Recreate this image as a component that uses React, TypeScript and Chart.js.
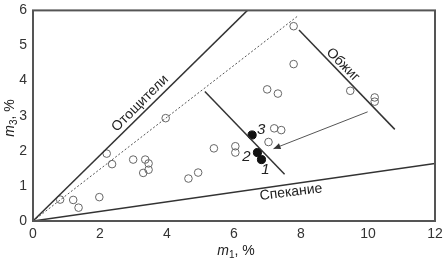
import React, { useEffect, useRef } from "react";
import { Chart, registerables } from "chart.js";

Chart.register(...registerables);

const xTicks = [0, 2, 4, 6, 8, 10, 12];
const yTicks = [0, 1, 2, 3, 4, 5, 6];

const openX = [0.81, 1.2, 1.36, 1.98, 2.2, 2.36, 2.99, 3.35, 3.45, 3.29, 3.45, 3.96, 4.64, 4.93, 5.4, 6.04, 6.04, 7.78, 7.78, 6.99, 7.31, 9.47, 10.2, 10.2, 7.2, 7.41, 7.03];
const openY = [0.61, 0.6, 0.38, 0.68, 1.92, 1.62, 1.75, 1.75, 1.64, 1.37, 1.46, 2.93, 1.21, 1.38, 2.07, 2.13, 1.95, 5.55, 4.47, 3.75, 3.63, 3.71, 3.52, 3.4, 2.64, 2.59, 2.25];

const filledX = [6.82, 6.7, 6.54];
const filledY = [1.75, 1.95, 2.45];
const filledLabels = ["1", "2", "3"];

const otoshLineX = [0, 6.4];
const otoshLineY = [0, 6];
const dottedLineX = [0, 7.93];
const dottedLineY = [0, 5.86];
const spekLineX = [0, 12];
const spekLineY = [0, 1.64];
const obzhigLineX = [7.94, 10.8];
const obzhigLineY = [5.44, 2.61];
const sampleLineX = [5.13, 7.51];
const sampleLineY = [3.69, 1.33];
const arrowX = [9.99, 7.18];
const arrowY = [3.11, 2.06];

const toPts = (xs: number[], ys: number[]) => xs.map((x, i) => ({ x, y: ys[i] }));

const LINE = "#333";
const FONT = "'Liberation Sans', Arial, sans-serif";

export default function App() {
  const ref = useRef<HTMLCanvasElement | null>(null);
  useEffect(() => {
    document.body.style.margin = "0";
    const canvas = ref.current!;
    const lineDs = (xs: number[], ys: number[], extra: any = {}) => ({
      type: "line" as const,
      data: toPts(xs, ys),
      borderColor: LINE,
      borderWidth: 1.5,
      pointRadius: 0,
      showLine: true,
      fill: false,
      ...extra,
    });

    const overlay = {
      id: "overlay",
      afterDatasetsDraw(chart: any) {
        const { ctx, chartArea: a, scales } = chart;
        const xs = scales.x, ys = scales.y;
        const px = (v: number) => xs.getPixelForValue(v);
        const py = (v: number) => ys.getPixelForValue(v);
        ctx.save();
        // frame
        ctx.strokeStyle = "#555";
        ctx.lineWidth = 2;
        ctx.strokeRect(a.left, a.top, a.right - a.left, a.bottom - a.top);
        // arrow head
        const x1 = px(arrowX[0]), y1 = py(arrowY[0]);
        const x2 = px(arrowX[1]), y2 = py(arrowY[1]);
        const ang = Math.atan2(y2 - y1, x2 - x1);
        const L = 7, W = 3;
        ctx.fillStyle = LINE;
        ctx.beginPath();
        ctx.moveTo(x2, y2);
        ctx.lineTo(x2 - L * Math.cos(ang) + W * Math.sin(ang), y2 - L * Math.sin(ang) - W * Math.cos(ang));
        ctx.lineTo(x2 - L * Math.cos(ang) - W * Math.sin(ang), y2 - L * Math.sin(ang) + W * Math.cos(ang));
        ctx.closePath();
        ctx.fill();
        // rotated labels
        const rotText = (t: string, x: number, y: number, deg: number, size: number) => {
          ctx.save();
          ctx.translate(x, y);
          ctx.rotate((deg * Math.PI) / 180);
          ctx.font = `${size}px ${FONT}`;
          ctx.fillStyle = "#222";
          ctx.textAlign = "center";
          ctx.textBaseline = "middle";
          ctx.fillText(t, 0, 0);
          ctx.restore();
        };
        rotText("Отощители", px(3.2), py(3.35), -45, 14);
        rotText("Обжиг", px(9.25), py(4.45), 45, 14);
        rotText("Спекание", px(7.7), py(0.82), -7, 14);
        // numbered labels
        ctx.font = `italic 15px ${FONT}`;
        ctx.fillStyle = "#222";
        ctx.textBaseline = "middle";
        ctx.textAlign = "center";
        const offs = [[4, 10], [-11, 4], [9, -5]];
        filledLabels.forEach((t, i) => {
          ctx.fillText(t, px(filledX[i]) + offs[i][0], py(filledY[i]) + offs[i][1]);
        });
        // axis titles
        const axisTitle = (sub: string, x: number, y: number, rot: number) => {
          ctx.save();
          ctx.translate(x, y);
          ctx.rotate(rot);
          ctx.fillStyle = "#222";
          ctx.textBaseline = "alphabetic";
          ctx.font = `italic 14px ${FONT}`;
          const wm = ctx.measureText("m").width;
          ctx.font = `10px ${FONT}`;
          const ws = ctx.measureText(sub).width;
          ctx.font = `14px ${FONT}`;
          const wr = ctx.measureText(", %").width;
          const total = wm + ws + wr;
          let cx = -total / 2;
          ctx.textAlign = "left";
          ctx.font = `italic 14px ${FONT}`;
          ctx.fillText("m", cx, 5);
          cx += wm;
          ctx.font = `10px ${FONT}`;
          ctx.fillText(sub, cx, 8);
          cx += ws;
          ctx.font = `14px ${FONT}`;
          ctx.fillText(", %", cx, 5);
          ctx.restore();
        };
        axisTitle("1", 236, 250, 0);
        axisTitle("3", 9, 118, -Math.PI / 2);
        ctx.restore();
      },
    };

    const chart = new Chart(canvas, {
      type: "scatter",
      data: {
        datasets: [
          lineDs(otoshLineX, otoshLineY),
          lineDs(dottedLineX, dottedLineY, { borderDash: [2, 2], borderWidth: 1, borderColor: "#555" }),
          lineDs(spekLineX, spekLineY),
          lineDs(obzhigLineX, obzhigLineY),
          lineDs(sampleLineX, sampleLineY),
          lineDs(arrowX, arrowY, { borderWidth: 1, borderColor: "#555" }),
          {
            type: "scatter" as const,
            data: toPts(openX, openY),
            pointRadius: 3.8,
            borderColor: "#666",
            borderWidth: 1,
            backgroundColor: "rgba(255,255,255,0)",
          },
          {
            type: "scatter" as const,
            data: toPts(filledX, filledY),
            pointRadius: 4.1,
            borderColor: "#111",
            borderWidth: 1,
            backgroundColor: "#111",
          },
        ] as any,
      },
      options: {
        animation: false,
        responsive: false,
        maintainAspectRatio: false,
        layout: { padding: { top: 5, right: 9, left: 0, bottom: 0 } },
        plugins: { legend: { display: false }, tooltip: { enabled: false } },
        scales: {
          x: {
            type: "linear",
            min: 0,
            max: 12,
            afterFit: (s: any) => { s.height = 42; },
            afterBuildTicks: (s: any) => { s.ticks = xTicks.map((v) => ({ value: v })); },
            grid: { display: false, drawTicks: true, tickLength: 4, tickColor: "#555", tickWidth: 1.5 } as any,
            border: { display: false },
            ticks: { color: "#333", font: { family: FONT, size: 14 }, padding: 1, maxRotation: 0 },
          },
          y: {
            type: "linear",
            min: 0,
            max: 6,
            afterFit: (s: any) => { s.width = 33; },
            afterBuildTicks: (s: any) => { s.ticks = yTicks.map((v) => ({ value: v })); },
            grid: { display: false, drawTicks: true, tickLength: 4, tickColor: "#555", tickWidth: 1.5 } as any,
            border: { display: false },
            ticks: { color: "#333", font: { family: FONT, size: 14 }, padding: 2 },
          },
        },
      },
      plugins: [overlay],
    });
    return () => chart.destroy();
  }, []);
  return <canvas ref={ref} width={444} height={263} style={{ display: "block" }} />;
}
